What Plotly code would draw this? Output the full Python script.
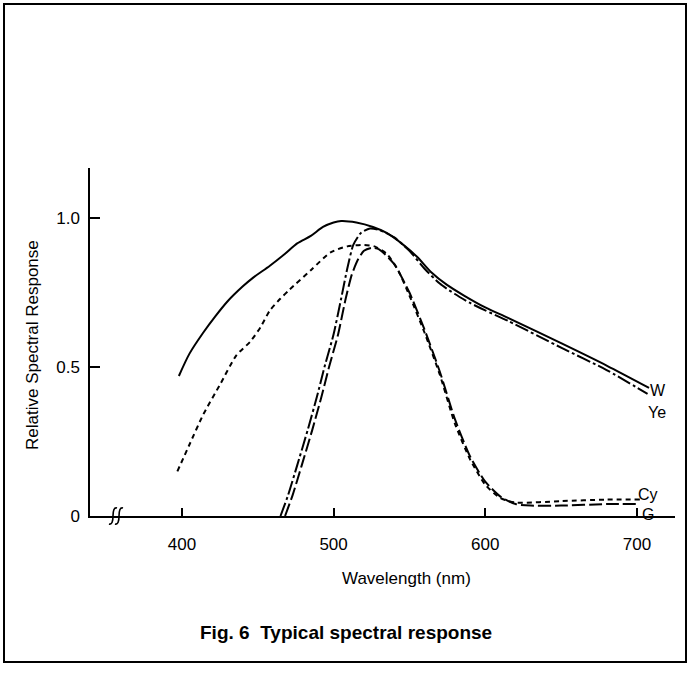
import plotly.graph_objects as go

# ---- data ----
w_nm = [398, 405, 414, 422, 430, 440, 447, 458, 468, 476, 485, 493, 500, 505, 515, 526, 535, 546, 555, 564, 575, 586, 600, 615, 650, 680, 708]
w_val = [0.47, 0.545, 0.615, 0.67, 0.72, 0.77, 0.80, 0.84, 0.88, 0.915, 0.94, 0.97, 0.985, 0.99, 0.985, 0.97, 0.95, 0.91, 0.87, 0.82, 0.775, 0.74, 0.70, 0.665, 0.58, 0.505, 0.43]

ye_nm = [465, 470, 476, 483, 489, 494, 500, 505, 509, 513, 518, 524, 530, 540, 550, 560, 570, 580, 590, 600, 615, 650, 680, 707]
ye_val = [0.0, 0.07, 0.17, 0.29, 0.40, 0.50, 0.61, 0.73, 0.83, 0.91, 0.95, 0.965, 0.96, 0.935, 0.89, 0.83, 0.78, 0.745, 0.715, 0.69, 0.655, 0.565, 0.49, 0.41]

cy_nm = [397, 405, 414, 425, 436, 445, 452, 458, 465, 471, 485, 498, 509, 520, 527, 535, 542, 550, 560, 570, 580, 590, 600, 610, 620, 650, 680, 702]
cy_val = [0.15, 0.24, 0.34, 0.44, 0.54, 0.585, 0.635, 0.69, 0.73, 0.76, 0.825, 0.885, 0.905, 0.91, 0.905, 0.88, 0.83, 0.74, 0.615, 0.475, 0.31, 0.19, 0.105, 0.06, 0.045, 0.05, 0.055, 0.055]

g_nm = [468, 473, 479, 486, 492, 497, 503, 508, 512, 516, 520, 525, 530, 540, 550, 560, 570, 580, 590, 600, 610, 620, 630, 650, 680, 701]
g_val = [0.0, 0.07, 0.17, 0.29, 0.40, 0.50, 0.61, 0.73, 0.81, 0.86, 0.89, 0.90, 0.895, 0.845, 0.75, 0.625, 0.485, 0.325, 0.20, 0.115, 0.065, 0.04, 0.035, 0.035, 0.04, 0.04]

x_ticks = [400, 500, 600, 700]
y_ticks = [0, 0.5, 1.0]
y_tick_text = ["0", "0.5", "1.0"]

FONT = "Liberation Sans, Arial, sans-serif"

fig = go.Figure()
fig.add_trace(go.Scatter(x=w_nm, y=w_val, mode="lines", name="W",
                         line=dict(color="black", width=2, shape="spline", smoothing=0.8)))
fig.add_trace(go.Scatter(x=ye_nm, y=ye_val, mode="lines", name="Ye",
                         line=dict(color="black", width=2, dash="14px,3px,3px,3px", shape="spline", smoothing=0.6)))
fig.add_trace(go.Scatter(x=cy_nm, y=cy_val, mode="lines", name="Cy",
                         line=dict(color="black", width=2, dash="5px,4px", shape="spline", smoothing=0.6)))
fig.add_trace(go.Scatter(x=g_nm, y=g_val, mode="lines", name="G",
                         line=dict(color="black", width=2, dash="13px,4px", shape="spline", smoothing=0.6)))

L, R, T, B = 90, 18, 168, 159
W_PX, H_PX = 693, 675
PW = W_PX - L - R
PH = H_PX - T - B


def px(xp):
    return (xp - L) / PW


def py(yp):
    return (H_PX - B - yp) / PH


fig.update_layout(
    width=W_PX, height=H_PX,
    margin=dict(l=L, r=R, t=T, b=B, pad=0),
    paper_bgcolor="white", plot_bgcolor="white",
    showlegend=False,
    font=dict(family=FONT, color="black"),
    xaxis=dict(range=[339.4, 725.1], tickvals=x_ticks, ticks="inside", ticklen=8,
               tickwidth=1.5, tickcolor="black", showline=True, linecolor="black",
               linewidth=1.5, showgrid=False, zeroline=False,
               tickfont=dict(size=17, family=FONT), ticklabelstandoff=12),
    yaxis=dict(range=[0, 1.168], tickvals=y_ticks, ticktext=y_tick_text, ticks="inside",
               ticklen=10, tickwidth=1.5, tickcolor="black", showline=True,
               linecolor="black", linewidth=1.5, showgrid=False, zeroline=False,
               tickfont=dict(size=17, family=FONT), ticklabelstandoff=5),
)

# curve labels
for txt, xx, yy in [("W", 658, 390), ("Ye", 657, 412), ("Cy", 648, 494), ("G", 648, 514)]:
    fig.add_annotation(x=px(xx), y=py(yy), xref="paper", yref="paper", text=txt,
                       showarrow=False, xanchor="center", yanchor="middle",
                       font=dict(size=16, family=FONT))

fig.add_annotation(x=px(32), y=py(345), xref="paper", yref="paper",
                   text="Relative Spectral Response", textangle=-90, showarrow=False,
                   xanchor="center", yanchor="middle", font=dict(size=17, family=FONT))
fig.add_annotation(x=px(406), y=py(578), xref="paper", yref="paper",
                   text="Wavelength (nm)", showarrow=False,
                   xanchor="center", yanchor="middle", font=dict(size=17, family=FONT))
fig.add_annotation(x=px(346), y=py(632), xref="paper", yref="paper",
                   text="<b>Fig. 6  Typical spectral response</b>", showarrow=False,
                   xanchor="center", yanchor="middle", font=dict(size=19, family=FONT))

# axis break mark (two small integral-like squiggles), drawn in paper space so it is not clipped
for dx in (-3, 3):
    fig.add_shape(type="path", xref="paper", yref="paper", xsizemode="pixel", ysizemode="pixel",
                  xanchor=px(116), yanchor=0,
                  path=f"M {dx+4},8 C {dx+1},9 {dx},5 {dx},0 C {dx},-5 {dx-1},-9 {dx-4},-8",
                  line=dict(color="black", width=1.6))

# outer frame
fig.add_shape(type="rect", xref="paper", yref="paper",
              x0=px(4), x1=px(686), y0=py(662), y1=py(4),
              line=dict(color="black", width=2))

fig.write_html("out.html", config={"displayModeBar": False},
               post_script="document.body.style.margin='0';document.body.style.overflow='hidden';")
